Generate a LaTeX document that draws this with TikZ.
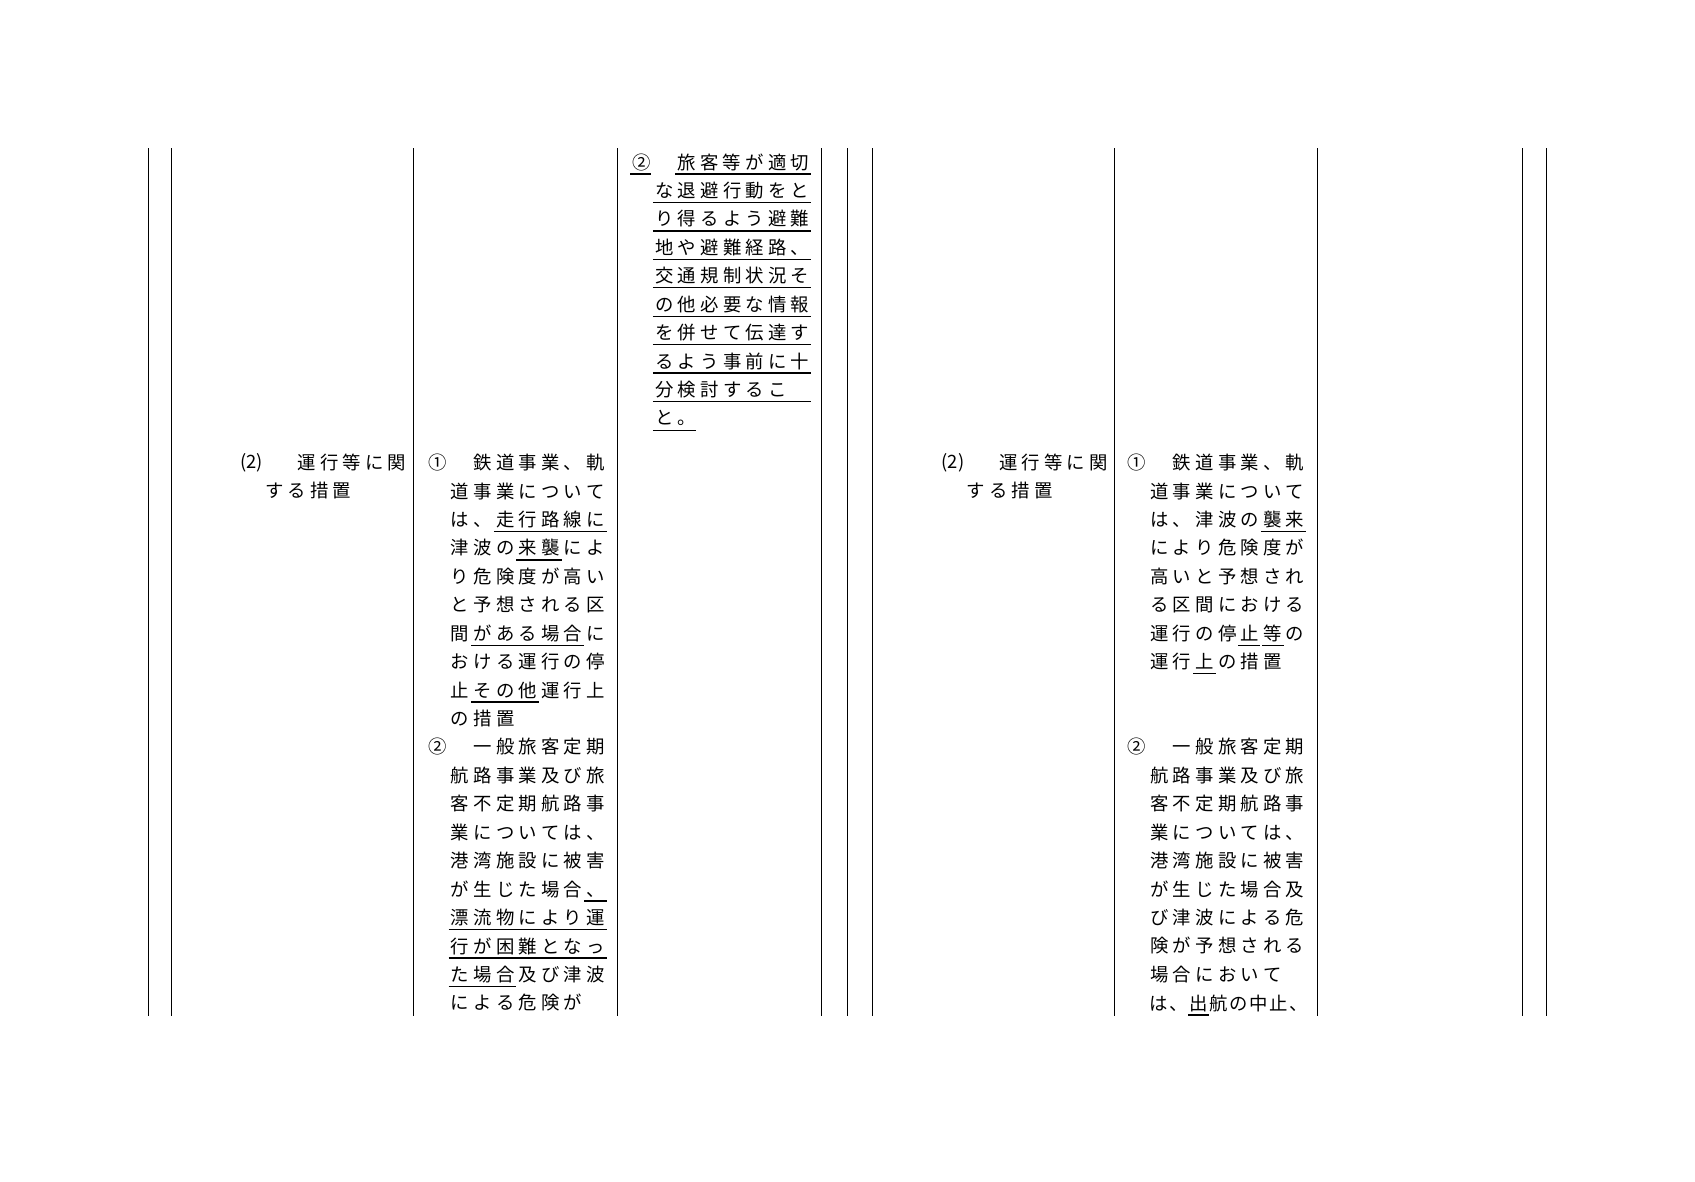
\documentclass[tikz,border=0pt]{standalone}
\usepackage{fontspec}
\newfontfamily\jp{Noto Sans CJK JP}
\newlength\jw \setlength\jw{20.9bp}
\makeatletter
\newcommand\jsp[1]{\@tfor\jc:=#1\do{\makebox[\jw]{\jc}}}
\newcommand\jspread[1]{\edef\jtmp{#1}\expandafter\jsp\expandafter{\jtmp}}
\makeatother
\newcommand\jrow[3]{\node[jt] at (#1,#2) {\jspread{#3}};}
\newcommand\jul[4]{\draw[ul] ({#1+#3*20.9},{#2+11}) -- ({#1+#4*20.9},{#2+11});}
\tikzset{jt/.style={anchor=west,inner sep=0pt,font=\jp\fontsize{17bp}{17bp}\selectfont},
 ul/.style={line width=1.2bp}, vl/.style={line width=0.8bp}}
\begin{document}
\begin{tikzpicture}[x=1bp,y=-1bp]
\useasboundingbox (0,0) rectangle (1568,1093);
\foreach \x in {137,159,382,571,760,784,807,1031,1219,1408,1431}
  {\draw[vl] (\x,137) -- (\x,940);}
% col3 left
\def\dy{26.3}
\jrow{583}{150}{②　旅客等が適切}
\jul{583}{150}{0}{0.9}\jul{583}{150}{2}{8}
\foreach \t [count=\i] in {な退避行動をと,り得るよう避難,地や避難経路、,交通規制状況そ,の他必要な情報,を併せて伝達す,るよう事前に十,分検討するこ}{
  \jrow{604}{150+\i*\dy}{\t}\jul{604}{150+\i*\dy}{0}{7}}
\jrow{604}{387}{と。}\jul{604}{387}{0}{1.9}
% col1
\node[jt] at (222,428) {(2)};
\jrow{273}{428}{運行等に関}
\jrow{243}{454}{する措置}
\node[jt] at (871,428) {(2)};
\jrow{922}{428}{運行等に関}
\jrow{892}{454}{する措置}
% col2 left
\jrow{394}{428}{①　鉄道事業、軌}
\foreach \t [count=\i] in {道事業について,は、走行路線に,津波の来襲によ,り危険度が高い,と予想される区,間がある場合に,おける運行の停,止その他運行上,の措置}
  {\jrow{415}{428+\i*\dy}{\t}}
\jul{415}{480.6}{2}{7}\jul{415}{506.9}{3}{5}\jul{415}{585.8}{1}{6}\jul{415}{638.4}{1}{4}
\jrow{394}{691}{②　一般旅客定期}
\foreach \t [count=\i] in {航路事業及び旅,客不定期航路事,業については、,港湾施設に被害,が生じた場合、,漂流物により運,行が困難となっ,た場合及び津波,による危険が}
  {\jrow{415}{691+\i*\dy}{\t}}
\jul{415}{822.5}{6}{7}\jul{415}{848.8}{0}{7}\jul{415}{875.1}{0}{7}\jul{415}{901.4}{0}{3}
% col2 right
\jrow{1041}{428}{①　鉄道事業、軌}
\foreach \t [count=\i] in {道事業について,は、津波の襲来,により危険度が,高いと予想され,る区間における,運行の停止等の,運行上の措置}
  {\jrow{1062}{428+\i*\dy}{\t}}
\jul{1062}{480.6}{5}{7}\jul{1062}{585.8}{4}{4.95}\jul{1062}{585.8}{5.05}{6}\jul{1062}{612.1}{2}{3}
\jrow{1041}{691}{②　一般旅客定期}
\foreach \t [count=\i] in {航路事業及び旅,客不定期航路事,業については、,港湾施設に被害,が生じた場合及,び津波による危,険が予想される,場合において}
  {\jrow{1062}{691+\i*\dy}{\t}}
\node[jt] at (1062,928) {\setlength\jw{18.6bp}\jspread{は、出航の中止、}};
\draw[ul] (1099,939) -- (1118,939);
\end{tikzpicture}
\end{document}
